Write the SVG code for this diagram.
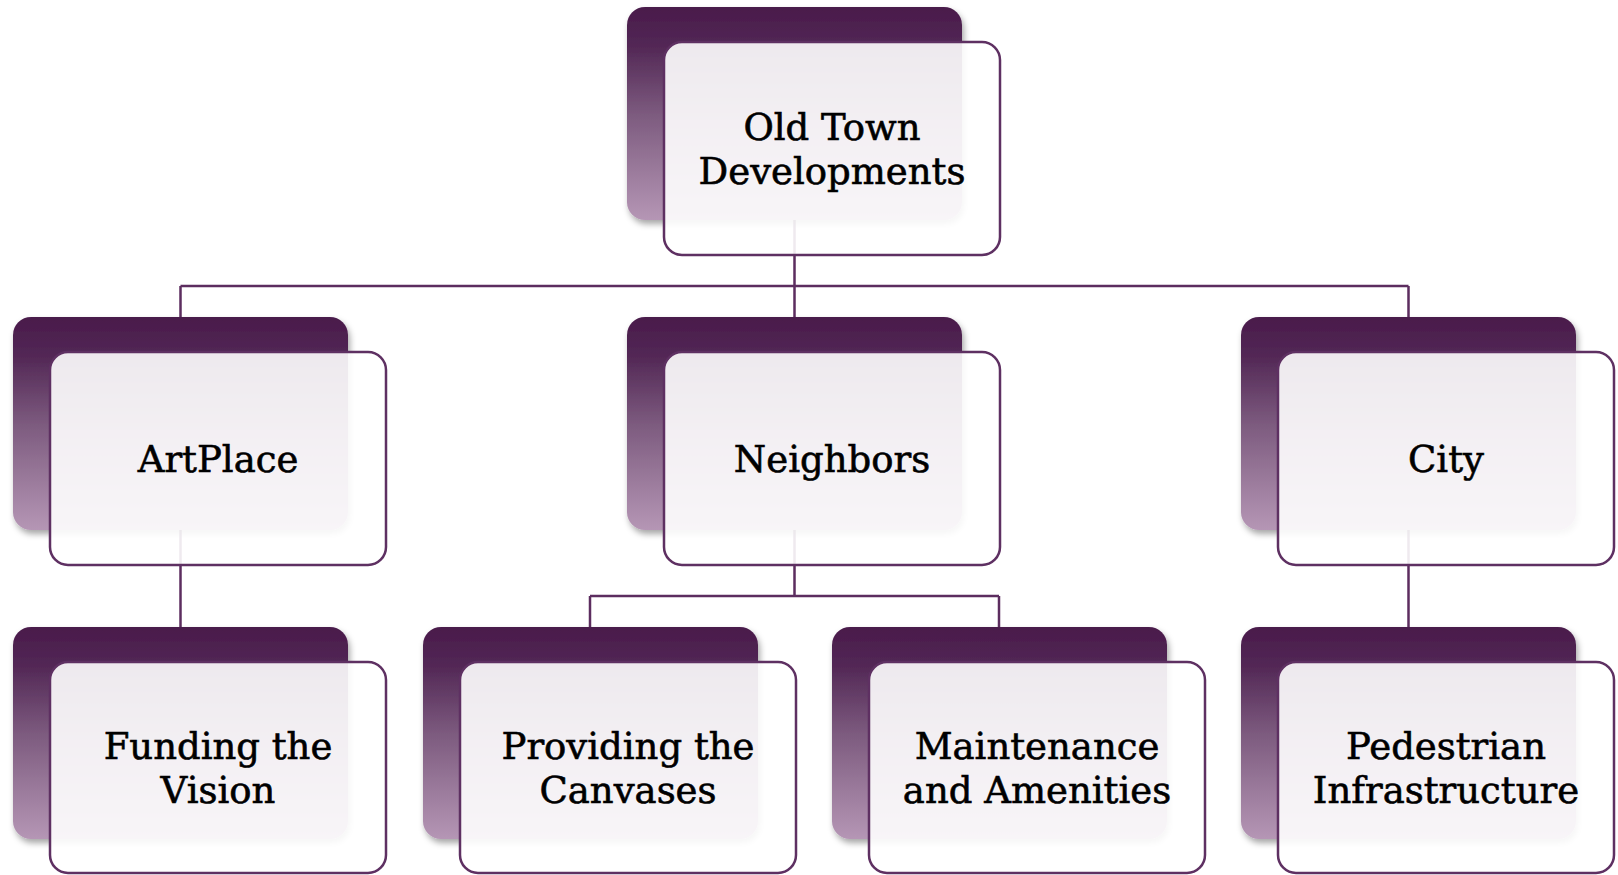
<svg xmlns="http://www.w3.org/2000/svg" width="1618" height="875" viewBox="0 0 1618 875">
<defs>
<linearGradient id="backGrad" x1="0" y1="0" x2="0" y2="1">
<stop offset="0" stop-color="#4a1b4b"/>
<stop offset="0.18" stop-color="#522755"/>
<stop offset="0.5" stop-color="#7c5a7e"/>
<stop offset="1" stop-color="#b596b5"/>
</linearGradient>
<filter id="shadow" x="-10%" y="-10%" width="125%" height="130%">
<feDropShadow dx="2" dy="4" stdDeviation="3" flood-color="#000" flood-opacity="0.35"/>
</filter>
</defs>
<style>
.back{fill:url(#backGrad);filter:url(#shadow);}
.front{fill:#ffffff;fill-opacity:0.9;stroke:#5e3062;stroke-width:2.5;}
.conn{fill:none;stroke:#5c2d5f;stroke-width:2.5;}
.lbl{font-family:"DejaVu Serif","Liberation Serif",serif;font-size:37px;fill:#000;stroke:#000;stroke-width:0.6;text-anchor:middle;}
</style>
<rect width="1618" height="875" fill="#ffffff"/>
<g id="connectors">
<path class="conn" d="M794.5 220 V286 M180.5 286 H1408.5 M180.5 286 V317 M794.5 286 V317 M1408.5 286 V317"/>
<path class="conn" d="M180.5 530 V627"/>
<path class="conn" d="M794.5 530 V596 M590 596 H999 M590 596 V627 M999 596 V627"/>
<path class="conn" d="M1408.5 530 V627"/>
</g>
<g id="node-old-town">
<rect class="back" x="627" y="7" width="335" height="213" rx="18"/>
<rect class="front" x="664" y="42" width="336" height="213" rx="18"/>
<text class="lbl" x="832" y="140">Old Town</text>
<text class="lbl" x="832" y="184">Developments</text>
</g>
<g id="node-artplace">
<rect class="back" x="13" y="317" width="335" height="213" rx="18"/>
<rect class="front" x="50" y="352" width="336" height="213" rx="18"/>
<text class="lbl" x="218" y="472">ArtPlace</text>
</g>
<g id="node-neighbors">
<rect class="back" x="627" y="317" width="335" height="213" rx="18"/>
<rect class="front" x="664" y="352" width="336" height="213" rx="18"/>
<text class="lbl" x="832" y="472">Neighbors</text>
</g>
<g id="node-city">
<rect class="back" x="1241" y="317" width="335" height="213" rx="18"/>
<rect class="front" x="1278" y="352" width="336" height="213" rx="18"/>
<text class="lbl" x="1446" y="472">City</text>
</g>
<g id="node-funding">
<rect class="back" x="13" y="627" width="335" height="212" rx="18"/>
<rect class="front" x="50" y="662" width="336" height="211" rx="18"/>
<text class="lbl" x="218" y="759">Funding the</text>
<text class="lbl" x="218" y="803">Vision</text>
</g>
<g id="node-canvases">
<rect class="back" x="423" y="627" width="335" height="212" rx="18"/>
<rect class="front" x="460" y="662" width="336" height="211" rx="18"/>
<text class="lbl" x="628" y="759">Providing the</text>
<text class="lbl" x="628" y="803">Canvases</text>
</g>
<g id="node-maintenance">
<rect class="back" x="832" y="627" width="335" height="212" rx="18"/>
<rect class="front" x="869" y="662" width="336" height="211" rx="18"/>
<text class="lbl" x="1037" y="759">Maintenance</text>
<text class="lbl" x="1037" y="803">and Amenities</text>
</g>
<g id="node-pedestrian">
<rect class="back" x="1241" y="627" width="335" height="212" rx="18"/>
<rect class="front" x="1278" y="662" width="336" height="211" rx="18"/>
<text class="lbl" x="1446" y="759">Pedestrian</text>
<text class="lbl" x="1446" y="803">Infrastructure</text>
</g>
</svg>
